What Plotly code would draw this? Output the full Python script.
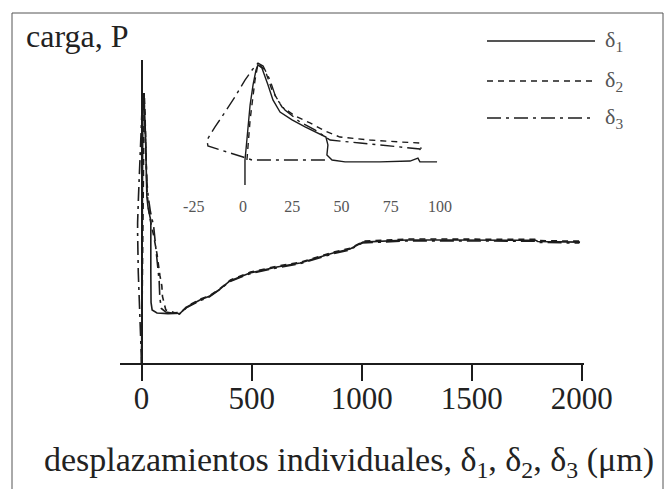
import plotly.graph_objects as go

# ---------------- data ----------------
# main plot: individual displacements (um) vs load (arbitrary units, 0-100)
tail_delta = [175, 206, 265, 310, 356, 401, 492, 615, 720, 870, 947, 1006,
              1100, 1206, 1400, 1600, 1790, 1800, 1900, 1992]
tail_load = [16.4, 18.5, 20.8, 22.1, 24.4, 27.1, 29.7, 31.7, 33.0, 36.3, 37.6, 39.9,
             40.3, 40.6, 40.6, 40.6, 40.5, 40.1, 40.1, 39.9]

d1_head = [0, 1, 2, 4, 6, 8, 12, 18, 24, 30, 38, 42, 42, 43, 48, 70, 120]
p1_head = [0, 25, 50, 75, 85, 89.1, 86, 75, 55, 51, 48.5, 47, 30, 20, 17.5, 16.5, 16.3]

d2_head = [0, 2, 5, 8, 10, 12, 15, 20, 24, 30, 40, 55, 70, 83, 92, 95, 110, 150]
p2_head = [0, 20, 45, 70, 82, 89.1, 84, 70, 58, 52, 47, 42, 36, 29, 25.5, 22, 17.5, 16.6]

d3_head = [0, -8, -15, -18, -18, -14, -9, -4, 1, 6, 9, 12, 15, 18, 24, 30, 40, 55, 70,
           80, 83, 90, 110, 150]
p3_head = [0, 15, 30, 43, 46.4, 55, 65, 75, 82, 87.6, 89.1, 86, 78, 70, 60, 55, 50, 45, 35,
           27, 21.5, 18, 16.8, 16.5]

# inset: peak region, displacement -25..100 um
in_d1 = [1.0, 1.0, 1.5, 2.5, 3.6, 5.1, 6.6, 7.6, 9.6, 12.7, 15.2, 18.8, 24.9, 31.5, 38.1,
         42.1, 43.1, 42.6, 45.2, 51.8, 69.5, 84.8, 88.8, 89.8, 98.5]
in_p1 = [20.7, 35.0, 40.7, 55.0, 66.4, 77.9, 86.4, 89.3, 87.6, 77.9, 69.3, 62.4, 57.9, 53.9,
         50.4, 48.1, 43.6, 37.9, 35.0, 33.9, 33.9, 34.4, 36.1, 33.9, 33.9]

in_d2 = [2.0, 3.6, 6.1, 7.6, 11.2, 14.7, 19.8, 26.4, 34.0, 41.6, 49.2, 64.5, 79.7, 89.8, 90.4]
in_p2 = [35.0, 57.9, 80.7, 89.9, 86.4, 75.0, 65.3, 60.2, 56.2, 51.6, 48.1, 46.4, 45.3, 44.7,
         41.3]

in_d3 = [41.6, 4.6, 0.0, -9.1, -17.8, -18.3, -14.2, -9.1, -4.1, 1.0, 4.6, 7.6, 10.2, 13.7,
         16.8, 21.3, 28.9, 36.5, 44.2, 59.4, 74.6, 89.8, 90.4]
in_p3 = [35.0, 35.0, 36.7, 40.1, 43.0, 46.4, 53.9, 62.4, 71.0, 80.7, 86.4, 90.4, 88.7, 80.7,
         70.4, 63.6, 56.7, 52.2, 46.4, 44.7, 43.0, 41.3, 38.4]

inset_ticks = [-25, 0, 25, 50, 75, 100]
main_ticks = [0, 500, 1000, 1500, 2000]
series_names = ["δ<sub>1</sub>", "δ<sub>2</sub>", "δ<sub>3</sub>"]

# ---------------- geometry ----------------
W, H = 667, 489
L, R, T, B = 120, 83, 60, 126
PW, PH = W - L - R, H - T - B


def fx(px):
    return (px - L) / PW


def fy(py):
    return (H - B - py) / PH


INK = "#1c1c1c"
FONT = "Liberation Serif"
dashes = ["solid", "6px,5px", "14px,5px,3px,5px"]

fig = go.Figure()

main_sets = [(d1_head + tail_delta, p1_head + tail_load),
             (d2_head + [d + 3 for d in tail_delta], p2_head + [p + 0.3 for p in tail_load]),
             (d3_head + [d - 3 for d in tail_delta], p3_head + [p - 0.3 for p in tail_load])]
for (xs, ys), dash in zip(main_sets, dashes):
    fig.add_trace(go.Scatter(x=xs, y=ys, mode="lines", xaxis="x", yaxis="y",
                             line=dict(color=INK, width=1.6, dash=dash),
                             showlegend=False, hoverinfo="skip"))

inset_sets = [(in_d1, in_p1), (in_d2, in_p2), (in_d3, in_p3)]
for (xs, ys), dash in zip(inset_sets, dashes):
    fig.add_trace(go.Scatter(x=xs, y=ys, mode="lines", xaxis="x2", yaxis="y2",
                             line=dict(color=INK, width=1.4, dash=dash),
                             showlegend=False, hoverinfo="skip"))

# inset axes: 1.97 px per um, zero at x=243 px
ix0, ix1 = 184, 450
px_per_um = 1.97
zero_px = 243

fig.update_layout(
    width=W, height=H,
    margin=dict(l=L, r=R, t=T, b=B),
    paper_bgcolor="white", plot_bgcolor="white",
    font=dict(family=FONT, color="#222"),
    xaxis=dict(range=[-98, 2010], tickvals=main_ticks, ticks="outside", ticklen=16,
               tickwidth=2, tickcolor=INK, showline=True, linecolor=INK, linewidth=2,
               zeroline=True, zerolinecolor=INK, zerolinewidth=2, showgrid=False,
               ticklabelstandoff=-9,
               tickfont=dict(family=FONT, size=31, color="#222")),
    yaxis=dict(range=[0, 100], visible=False),
    xaxis2=dict(domain=[fx(ix0), fx(ix1)], anchor="y2",
                range=[(ix0 - zero_px) / px_per_um, (ix1 - zero_px) / px_per_um],
                tickvals=inset_ticks, ticktext=[str(v) for v in inset_ticks],
                ticks="", showline=False, zeroline=False, showgrid=False,
                tickfont=dict(family=FONT, size=16, color="#555")),
    yaxis2=dict(domain=[fy(195), fy(60)], anchor="x2", range=[15, 92.14], visible=False),
)

shapes = [dict(type="rect", xref="paper", yref="paper", x0=fx(12), x1=fx(663),
               y0=fy(500), y1=fy(13), line=dict(color="#555", width=1))]
annotations = []
for row_y, dash, name in zip([41, 81, 118], dashes, series_names):
    shapes.append(dict(type="line", xref="paper", yref="paper", x0=fx(487), x1=fx(595),
                       y0=fy(row_y), y1=fy(row_y),
                       line=dict(color=INK, width=1.5, dash=dash)))
    annotations.append(dict(text=name, xref="paper", yref="paper", x=fx(603), y=fy(row_y),
                            xanchor="left", yanchor="middle", showarrow=False,
                            font=dict(family=FONT, size=22, color="#555")))

annotations.append(dict(text="carga, P", xref="paper", yref="paper", x=fx(24), y=fy(36),
                        xanchor="left", yanchor="middle", showarrow=False,
                        font=dict(family=FONT, size=32, color="#222")))
annotations.append(dict(
    text="desplazamientos individuales, δ<sub>1</sub>, δ<sub>2</sub>, δ<sub>3</sub> (μm)",
    xref="paper", yref="paper", x=fx(349), y=fy(462), xanchor="center", yanchor="middle",
    showarrow=False, font=dict(family=FONT, size=34, color="#222")))

fig.update_layout(shapes=shapes, annotations=annotations)
fig.write_html("out.html")
